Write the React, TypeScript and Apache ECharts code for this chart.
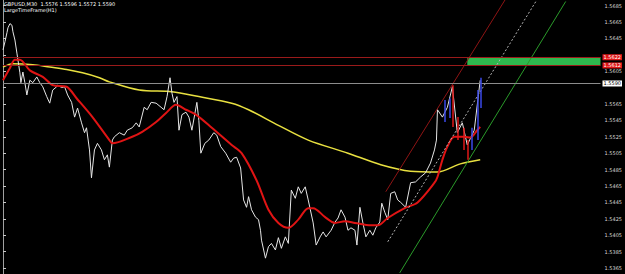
import React, { useEffect, useRef } from "react";
import * as echarts from "echarts";

// bar index (M30 bars from left edge), price
const priceLine: [number, number][] = [
  [0, 1.5631], [2, 1.5641], [4, 1.5652], [5, 1.5658], [7, 1.5663], [9, 1.5661], [10, 1.5653], [12, 1.5643],
  [14, 1.5627], [15, 1.5619], [17, 1.5603], [18, 1.5591], [20, 1.5604], [22, 1.5591], [24, 1.5576], [27, 1.5594],
  [30, 1.5591], [34, 1.5598], [37, 1.5591], [40, 1.5586], [44, 1.5574], [47, 1.5566], [50, 1.5582], [54, 1.5586],
  [55, 1.5588], [59, 1.5585], [62, 1.5586], [65, 1.5576], [69, 1.5567], [72, 1.5549], [75, 1.556], [79, 1.5542],
  [82, 1.553], [84, 1.5536], [87, 1.5509], [89, 1.5475], [92, 1.5509], [95, 1.5517], [99, 1.5509], [102, 1.5497],
  [105, 1.5503], [107, 1.5488], [110, 1.5521], [112, 1.5525], [117, 1.553], [122, 1.5527], [125, 1.5533], [130, 1.5536],
  [134, 1.5542], [137, 1.5537], [142, 1.5561], [145, 1.5558], [149, 1.5567], [154, 1.5566], [159, 1.5561], [162, 1.5558],
  [165, 1.5574], [168, 1.5597], [170, 1.5578], [172, 1.5567], [175, 1.5574], [177, 1.5533], [180, 1.5552], [184, 1.5555],
  [187, 1.5549], [190, 1.5533], [195, 1.5567], [197, 1.5545], [199, 1.5505], [203, 1.5517], [207, 1.5521], [212, 1.553],
  [215, 1.5527], [219, 1.5513], [224, 1.5505], [229, 1.5494], [232, 1.5499], [235, 1.55], [239, 1.5487], [242, 1.5448],
  [245, 1.5439], [247, 1.5452], [250, 1.5436], [254, 1.5427], [257, 1.5424], [259, 1.5411], [260, 1.5399], [264, 1.5377],
  [267, 1.5391], [270, 1.5395], [274, 1.5387], [277, 1.5402], [280, 1.5389], [284, 1.5403], [287, 1.5395], [290, 1.546],
  [294, 1.545], [297, 1.5464], [300, 1.5456], [304, 1.5464], [307, 1.5448], [312, 1.542], [315, 1.5393], [319, 1.5403],
  [322, 1.5409], [325, 1.5403], [330, 1.5411], [334, 1.5421], [337, 1.5426], [340, 1.5436], [344, 1.5427], [347, 1.5411],
  [350, 1.5414], [354, 1.5411], [356, 1.5393], [359, 1.5439], [362, 1.542], [365, 1.5403], [369, 1.5411], [372, 1.5405],
  [375, 1.5414], [379, 1.5421], [381, 1.5444], [384, 1.5433], [387, 1.5424], [390, 1.5456], [394, 1.5458], [397, 1.5448],
  [400, 1.5445], [405, 1.5439], [410, 1.5469], [415, 1.547], [420, 1.5476], [425, 1.5481], [430, 1.5493], [434, 1.5509],
  [436, 1.5521], [437, 1.5558], [442, 1.5549], [447, 1.5561], [452, 1.5586], [457, 1.553], [462, 1.5542], [467, 1.5515],
  [474, 1.5533], [480, 1.5594],
];

const redMA: [number, number][] = [
  [0, 1.5594], [7, 1.5609], [12, 1.5619], [17, 1.5619], [27, 1.5606], [40, 1.5598], [50, 1.5588], [64, 1.5586],
  [74, 1.5572], [90, 1.5549], [107, 1.5521], [110, 1.5517], [130, 1.5525], [140, 1.5531], [154, 1.5543], [164, 1.5554],
  [174, 1.5564], [184, 1.5558], [194, 1.5552], [210, 1.5536], [230, 1.5515], [240, 1.5505], [255, 1.5472], [267, 1.5436],
  [277, 1.542], [287, 1.5414], [297, 1.5424], [307, 1.5438], [312, 1.5438], [324, 1.5427], [334, 1.542], [344, 1.5422],
  [354, 1.542], [370, 1.5417], [377, 1.5417], [387, 1.5426], [404, 1.5438], [417, 1.5445], [434, 1.5469], [437, 1.5476],
  [442, 1.5497], [447, 1.5513], [454, 1.5525], [464, 1.5525], [470, 1.5524], [477, 1.5533], [480, 1.5537],
];

const yellowMA: [number, number][] = [
  [0, 1.561], [10, 1.5614], [30, 1.5613], [47, 1.561], [64, 1.5607], [80, 1.5603], [97, 1.5597], [107, 1.5592],
  [137, 1.5582], [170, 1.558], [197, 1.5574], [230, 1.5566], [247, 1.5558], [277, 1.5539], [307, 1.5521], [347, 1.5505],
  [380, 1.5491], [410, 1.5483], [437, 1.5482], [460, 1.5492], [480, 1.5497],
];

const upperChannel: [number, number][] = [[385, 1.5458], [505, 1.5692]];
const midChannel: [number, number][] = [[387, 1.5397], [537, 1.5692]];
const lowerChannel: [number, number][] = [[399, 1.5359], [566, 1.569]];

// H1 candles: [bar, low, high]
const h1Up: [number, number, number][] = [[444, 1.5543, 1.557], [449, 1.5548, 1.5572], [471, 1.5509, 1.5536], [478, 1.5521, 1.5582], [481, 1.556, 1.5597]];
const h1Down: [number, number, number][] = [[452, 1.5537, 1.5588], [457, 1.5521, 1.5549], [463, 1.5509, 1.5536], [467, 1.5497, 1.5521]];

const levelHigh = 1.5622;
const levelLow = 1.5612;
const bidPrice = 1.559;
const zoneStart = 467;
const zoneEnd = 601;

const yTicks = [1.5365, 1.5385, 1.5405, 1.5425, 1.5445, 1.5465, 1.5485, 1.5505, 1.5525, 1.5545, 1.5565, 1.5585, 1.5605, 1.5625, 1.5645, 1.5665, 1.5685];
const yLabels = [1.5365, 1.5385, 1.5405, 1.5425, 1.5445, 1.5465, 1.5485, 1.5505, 1.5525, 1.5545, 1.5565, 1.5605, 1.5645, 1.5665, 1.5685];

const headerLine1 = "GBPUSD,M30  1.5576 1.5596 1.5572 1.5590";
const headerLine2 = "LargeTimeFrame(H1)";

const Y_MIN = 1.53577;
const Y_MAX = 1.56918;
const X_MAX = 601;

export default function App() {
  const ref = useRef<HTMLDivElement>(null);
  useEffect(() => {
    if (!ref.current) return;
    const chart = echarts.init(ref.current, null, { renderer: "svg" });
    const font = "DejaVu Sans";
    const levelLabel = (bg: string, fg: string) => ({
      show: true,
      position: "end",
      distance: 2,
      formatter: (p: any) => Number(p.value).toFixed(4),
      backgroundColor: bg,
      color: fg,
      fontSize: 5,
      fontFamily: font,
      padding: [1, 1, 0, 1],
    });
    const candleLines = (arr: [number, number, number][], color: string) =>
      arr.map(([x, l, h]) => [
        { coord: [x, l], lineStyle: { color, width: 1.5, type: "solid" } },
        { coord: [x, h] },
      ]);
    chart.setOption({
      animation: false,
      backgroundColor: "#000000",
      grid: { left: 3, right: 21, top: 0, bottom: 0 },
      xAxis: { type: "value", min: 0, max: X_MAX, show: false },
      yAxis: [
        {
          type: "value",
          position: "right",
          min: Y_MIN,
          max: Y_MAX,
          axisLine: { show: true, lineStyle: { color: "#c8c8c8", width: 1 } },
          axisTick: { show: true, length: 3, customValues: yTicks, lineStyle: { color: "#c8c8c8" } },
          axisLabel: {
            customValues: yLabels,
            color: "#d8d8d8",
            fontSize: 5,
            fontFamily: font,
            margin: 4,
            formatter: (v: number) => v.toFixed(4),
          },
          splitLine: { show: false },
        },
        {
          type: "value",
          position: "left",
          min: Y_MIN,
          max: Y_MAX,
          axisLine: { show: true, lineStyle: { color: "#a0a0a0", width: 1 } },
          axisTick: { show: false },
          axisLabel: { show: false },
          splitLine: { show: false },
        },
      ],
      graphic: [
        { type: "text", left: 4, top: 1, style: { text: headerLine1, fill: "#ffffff", fontSize: 5, fontFamily: font } },
        { type: "text", left: 4, top: 7, style: { text: headerLine2, fill: "#ffffff", fontSize: 5, fontFamily: font } },
      ],
      series: [
        {
          type: "line",
          name: "MA long",
          data: yellowMA,
          symbol: "none",
          smooth: 0.3,
          lineStyle: { color: "#e8e040", width: 1.5 },
          markLine: {
            silent: true,
            precision: 4,
            symbol: ["none", "none"],
            data: [
              { yAxis: bidPrice, lineStyle: { color: "#8c8c8c", width: 1, type: "solid" }, label: levelLabel("#ffffff", "#000000") },
              { yAxis: levelHigh, lineStyle: { color: "#9a1a1a", width: 1, type: "solid" }, label: levelLabel("#e01818", "#ffffff") },
              { yAxis: levelLow, lineStyle: { color: "#9a1a1a", width: 1, type: "solid" }, label: levelLabel("#e01818", "#ffffff") },
            ],
          },
          markArea: {
            silent: true,
            itemStyle: { color: "#2fb84f" },
            data: [[{ xAxis: zoneStart, yAxis: levelHigh }, { xAxis: zoneEnd, yAxis: levelLow }]],
          },
        },
        {
          type: "line",
          name: "Price",
          data: priceLine,
          symbol: "none",
          lineStyle: { color: "#e6e6e6", width: 1 },
          markLine: {
            silent: true,
            precision: 4,
            symbol: ["none", "none"],
            label: { show: false },
            data: [...candleLines(h1Up, "#3a48e8"), ...candleLines(h1Down, "#e01818")],
          },
        },
        {
          type: "line",
          name: "MA mid",
          data: redMA,
          symbol: "none",
          smooth: 0.3,
          lineStyle: { color: "#e01414", width: 2 },
        },
        {
          type: "line",
          name: "upper channel",
          data: upperChannel,
          symbol: "none",
          lineStyle: { color: "#8e1414", width: 1 },
        },
        {
          type: "line",
          name: "mid channel",
          data: midChannel,
          symbol: "none",
          lineStyle: { color: "#b4b4b4", width: 1, type: [2, 2] },
        },
        {
          type: "line",
          name: "lower channel",
          data: lowerChannel,
          symbol: "none",
          lineStyle: { color: "#2a9a2a", width: 1 },
        },
      ],
    });
    return () => chart.dispose();
  }, []);
  return (
    <div
      ref={ref}
      style={{ position: "fixed", left: 0, top: 0, width: 625, height: 274, background: "#000" }}
    />
  );
}
